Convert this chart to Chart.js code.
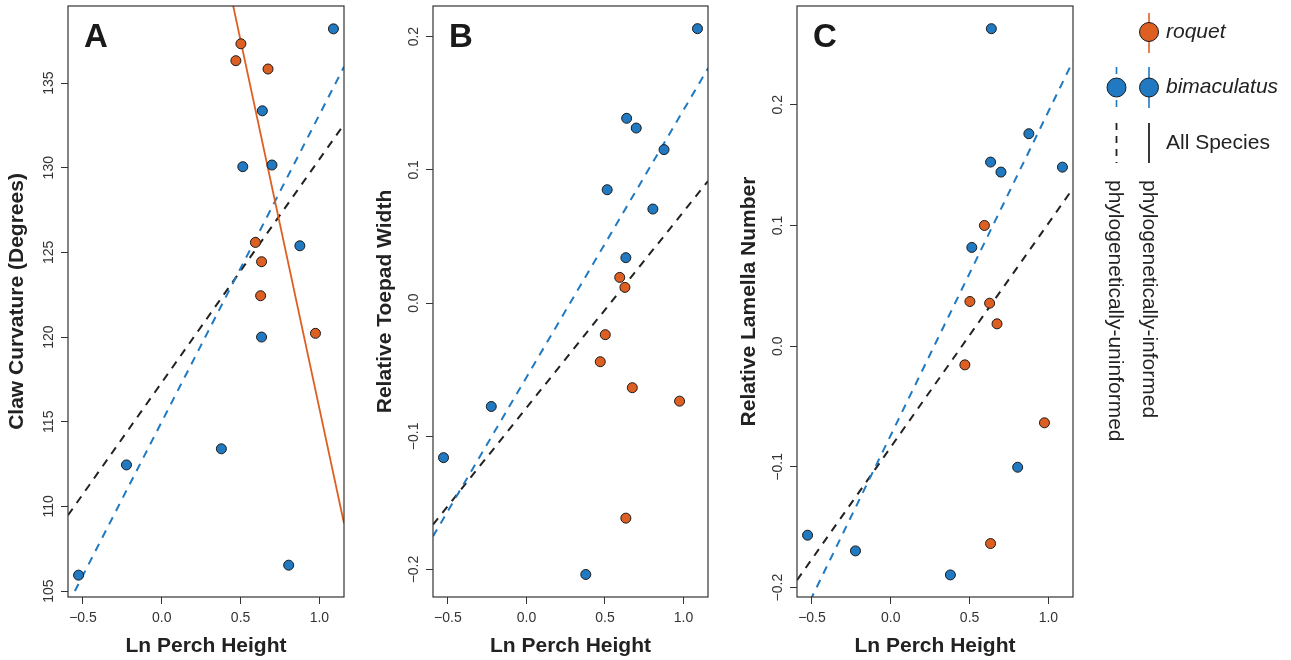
<!DOCTYPE html>
<html><head><meta charset="utf-8">
<script src="https://cdn.jsdelivr.net/npm/chart.js@4/dist/chart.umd.min.js"></script>
<style>
html,body{margin:0;padding:0;background:#fff;width:1291px;height:660px;overflow:hidden;}
.p{position:absolute;top:0;height:660px;}
canvas{display:block;}
</style></head><body>
<div class="p" style="left:0px;width:356px"><canvas id="cA" width="356" height="660"></canvas></div>
<div class="p" style="left:360px;width:360px"><canvas id="cB" width="360" height="660"></canvas></div>
<div class="p" style="left:720px;width:571px"><canvas id="cC" width="571" height="660"></canvas></div>
<script>
// ---------- data ----------
const xRange = [-0.595, 1.156];
const xTicks = [-0.5, 0, 0.5, 1.0];
const xTickLabels = ['\u22120.5', '0.0', '0.5', '1.0'];

// Ln perch height per species
const roquetX = [0.470, 0.502, 0.594, 0.627, 0.633, 0.674, 0.975];
const bimacX  = [-0.528, -0.224, 0.378, 0.514, 0.633, 0.638, 0.699, 0.805, 0.876, 1.089];

// Panel A: claw curvature
const roquetA = [136.32, 137.32, 125.59, 122.44, 124.45, 135.83, 120.22];
const bimacA  = [105.94, 112.45, 113.40, 130.06, 120.00, 133.36, 130.16, 106.53, 125.39, 138.20];
// Panel B: relative toepad width
const roquetB = [-0.044, -0.0237, 0.0193, 0.0118, -0.1614, -0.0635, -0.0736];
const bimacB  = [-0.116, -0.0776, -0.2037, 0.0851, 0.0341, 0.1387, 0.1314, 0.0706, 0.1152, 0.206];
// Panel C: relative lamella number
const roquetC = [-0.0155, 0.037, 0.100, 0.0356, -0.1635, 0.0185, -0.0635];
const bimacC  = [-0.1566, -0.1696, -0.1895, 0.0818, 0.1525, 0.263, 0.1442, -0.1003, 0.176, 0.1483];

// regression lines [intercept, slope]
const fitA_roquetInformed = [159.24, -43.46];
const fitA_bimacUninformed = [115.0, 18.13];
const fitA_allUninformed = [117.32, 13.18];
const fitB_bimacUninformed = [-0.0557, 0.2006];
const fitB_allUninformed = [-0.0786, 0.1472];
const fitC_bimacUninformed = [-0.0737, 0.2681];
const fitC_allUninformed = [-0.0836, 0.1854];

// y axes
const yRangeA = [104.65, 139.55];
const yTicksA = [105, 110, 115, 120, 125, 130, 135];
const yTickLabelsA = ['105', '110', '115', '120', '125', '130', '135'];
const yRangeB = [-0.2206, 0.223];
const yTicksB = [-0.2, -0.1, 0, 0.1, 0.2];
const yTickLabelsB = ['\u22120.2', '\u22120.1', '0.0', '0.1', '0.2'];
const yRangeC = [-0.2078, 0.2818];
const yTicksC = [-0.2, -0.1, 0, 0.1, 0.2];
const yTickLabelsC = ['\u22120.2', '\u22120.1', '0.0', '0.1', '0.2'];

// ---------- style ----------
const FONT = '"Liberation Sans", Arial, Helvetica, sans-serif';
const ORANGE = '#de5f22';
const BLUE = '#2079c1';
const INK = '#222';
const AXC = '#333';

const pts = (xs, ys) => xs.map((x, i) => ({x: x, y: ys[i]}));
const lineOf = c => xRange.map(x => ({x: x, y: c[0] + c[1] * x}));

function pointSet(xs, ys, color) {
  return {data: pts(xs, ys), backgroundColor: color, borderColor: '#1a1a1a',
    pointRadius: 5, pointBorderWidth: 1, pointHoverRadius: 5, showLine: false};
}
function lineSet(c, color, dashed) {
  return {data: lineOf(c), borderColor: color, borderWidth: dashed ? 2 : 1.8,
    borderDash: dashed ? [8, 7] : [], showLine: true, pointRadius: 0, pointHoverRadius: 0, fill: false};
}

const panelDeco = {
  id: 'panelDeco',
  afterDraw(chart, args, o) {
    const ctx = chart.ctx, a = chart.chartArea, ys = chart.scales.y;
    ctx.save();
    ctx.strokeStyle = AXC; ctx.lineWidth = 1.2;
    ctx.strokeRect(a.left, a.top, a.right - a.left, a.bottom - a.top);
    ctx.fillStyle = AXC;
    ctx.font = '14px ' + FONT;
    ctx.textAlign = 'center'; ctx.textBaseline = 'alphabetic';
    ys.ticks.forEach((t, i) => {
      const py = ys.getPixelForValue(t.value);
      ctx.save(); ctx.translate(a.left - 15, py); ctx.rotate(-Math.PI / 2);
      ctx.fillText(o.yLabels[i], 0, 0); ctx.restore();
    });
    ctx.fillStyle = '#1a1a1a';
    ctx.font = 'bold 33px ' + FONT;
    ctx.fillText(o.letter, a.left + 28, 47);
    ctx.restore();
  }
};

const legendDeco = {
  id: 'legendDeco',
  afterDraw(chart) {
    const ctx = chart.ctx;
    const ox = 720;
    ctx.save();
    ctx.translate(-ox, 0);
    const xL = 1116.5, xR = 1149, xT = 1166;
    function vline(x, y0, y1, color, dash, w) {
      ctx.save(); ctx.strokeStyle = color; ctx.lineWidth = w; ctx.setLineDash(dash);
      ctx.beginPath(); ctx.moveTo(x, y0); ctx.lineTo(x, y1); ctx.stroke(); ctx.restore();
    }
    function dot(x, y, color) {
      ctx.save(); ctx.fillStyle = color; ctx.strokeStyle = '#1a1a1a'; ctx.lineWidth = 1;
      ctx.beginPath(); ctx.arc(x, y, 9.5, 0, Math.PI * 2); ctx.fill(); ctx.stroke(); ctx.restore();
    }
    // roquet
    vline(xR, 13, 53, ORANGE, [], 1.6);
    dot(xR, 32, ORANGE);
    // bimaculatus
    vline(xL, 67, 107, BLUE, [7, 26], 1.6);
    vline(xR, 67, 108, BLUE, [], 1.6);
    dot(xL, 87.5, BLUE);
    dot(xR, 87.5, BLUE);
    // all species
    vline(xL, 123, 163, INK, [7, 6], 1.8);
    vline(xR, 123, 163, INK, [], 1.8);
    ctx.fillStyle = INK;
    ctx.textAlign = 'left'; ctx.textBaseline = 'middle';
    ctx.font = 'italic 21px ' + FONT;
    ctx.fillText('roquet', xT, 32);
    ctx.fillText('bimaculatus', xT, 87.5);
    ctx.font = '21px ' + FONT;
    ctx.fillText('All Species', xT, 143);
    // rotated labels
    [['phylogenetically-informed', xR], ['phylogenetically-uninformed', 1115]].forEach(([txt, x]) => {
      ctx.save(); ctx.translate(x, 180); ctx.rotate(Math.PI / 2);
      ctx.textAlign = 'left'; ctx.textBaseline = 'middle';
      ctx.fillText(txt, 0, 0); ctx.restore();
    });
    ctx.restore();
  }
};

function makePanel(id, cfg) {
  const gridOpts = {display: true, drawOnChartArea: false, drawTicks: true, tickLength: 7, tickColor: AXC, tickWidth: 1};
  const plugins = [panelDeco];
  if (cfg.legend) plugins.push(legendDeco);
  return new Chart(document.getElementById(id), {
    type: 'scatter',
    data: {datasets: cfg.datasets},
    plugins: plugins,
    options: {
      responsive: false, animation: false, devicePixelRatio: 1,
      layout: {padding: {top: 6, right: cfg.padRight, bottom: 0, left: 0}},
      plugins: {legend: {display: false}, tooltip: {enabled: false},
        panelDeco: {letter: cfg.letter, yLabels: cfg.yLabels}},
      scales: {
        x: {type: 'linear', min: xRange[0], max: xRange[1],
          afterBuildTicks: s => { s.ticks = xTicks.map(v => ({value: v})); },
          afterFit: s => { s.height = 63; },
          grid: gridOpts, border: {display: false},
          ticks: {padding: 6, color: AXC, font: {family: FONT, size: 14}, autoSkip: false, maxRotation: 0,
            callback: (v, i) => xTickLabels[i]},
          title: {display: true, text: 'Ln Perch Height', color: INK,
            font: {family: FONT, size: 21, weight: 'bold'}, padding: {top: 0, bottom: 1}}
        },
        y: {type: 'linear', min: cfg.yRange[0], max: cfg.yRange[1],
          afterBuildTicks: s => { s.ticks = cfg.yTicks.map(v => ({value: v})); },
          afterFit: s => { s.width = cfg.yWidth; },
          grid: gridOpts, border: {display: false},
          ticks: {display: false},
          title: {display: true, text: cfg.yTitle, color: INK,
            font: {family: FONT, size: 21, weight: 'bold'}, padding: {top: cfg.titlePad, bottom: 0}}
        }
      }
    }
  });
}

makePanel('cA', {
  letter: 'A', yTitle: 'Claw Curvature (Degrees)', yRange: yRangeA, yTicks: yTicksA, yLabels: yTickLabelsA,
  yWidth: 68, titlePad: 4.5, padRight: 12,
  datasets: [
    pointSet(roquetX, roquetA, ORANGE),
    pointSet(bimacX, bimacA, BLUE),
    lineSet(fitA_roquetInformed, ORANGE, false),
    lineSet(fitA_bimacUninformed, BLUE, true),
    lineSet(fitA_allUninformed, INK, true)
  ]
});
makePanel('cB', {
  letter: 'B', yTitle: 'Relative Toepad Width', yRange: yRangeB, yTicks: yTicksB, yLabels: yTickLabelsB,
  yWidth: 73, titlePad: 12.4, padRight: 12,
  datasets: [
    pointSet(roquetX, roquetB, ORANGE),
    pointSet(bimacX, bimacB, BLUE),
    lineSet(fitB_bimacUninformed, BLUE, true),
    lineSet(fitB_allUninformed, INK, true)
  ]
});
makePanel('cC', {
  letter: 'C', yTitle: 'Relative Lamella Number', yRange: yRangeC, yTicks: yTicksC, yLabels: yTickLabelsC,
  yWidth: 77, titlePad: 16.4, padRight: 218, legend: true,
  datasets: [
    pointSet(roquetX, roquetC, ORANGE),
    pointSet(bimacX, bimacC, BLUE),
    lineSet(fitC_bimacUninformed, BLUE, true),
    lineSet(fitC_allUninformed, INK, true)
  ]
});
</script>
</body></html>
